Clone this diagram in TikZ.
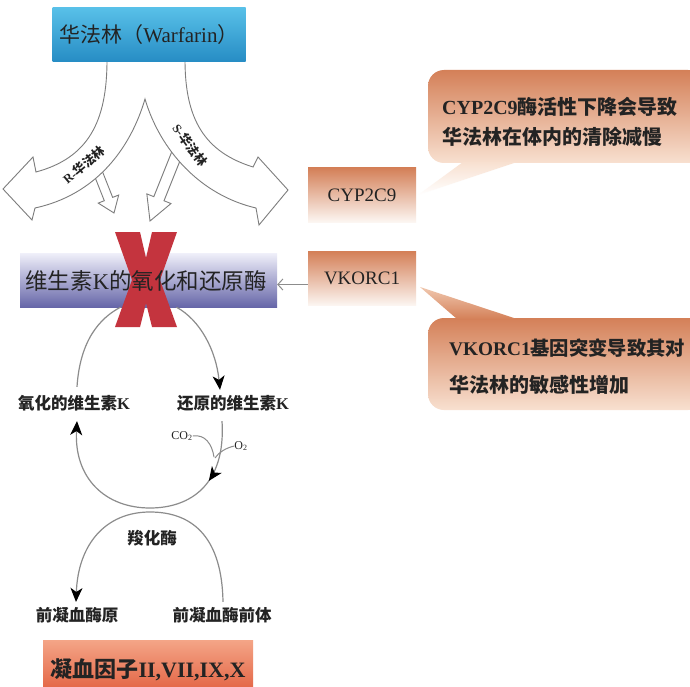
\documentclass[tikz,border=0pt]{standalone}
\usepackage{fontspec}
\setmainfont{Liberation Serif}
\newfontfamily\cjk{Noto Sans CJK SC}
\usetikzlibrary{arrows.meta,calc,decorations.markings}
\definecolor{warfTop}{RGB}{88,192,232}
\definecolor{warfBot}{RGB}{38,140,196}
\definecolor{purTop}{RGB}{240,240,250}
\definecolor{purBot}{RGB}{102,102,168}
\definecolor{orTop}{RGB}{212,128,88}
\definecolor{orLight}{RGB}{248,224,208}
\definecolor{orTip}{RGB}{240,200,175}
\definecolor{orBoxBot}{RGB}{252,246,242}
\definecolor{botTop}{RGB}{244,165,135}
\definecolor{botBot}{RGB}{224,88,56}
\definecolor{xred}{RGB}{196,52,62}
\definecolor{lgray}{RGB}{140,140,140}
\definecolor{agray}{RGB}{125,125,125}
\definecolor{txt}{RGB}{35,35,35}
% #1 start, #2 tip, #3 head length, #4 shaft half width, #5 head half width
\newcommand\blockarr[5]{%
  \coordinate (bah) at ($(#2)!#3pt!(#1)$);
  \path[bigarrow] ($(#1)!#4pt!90:(#2)$) -- ($(bah)!#4pt!-90:(#1)$) -- ($(bah)!#5pt!-90:(#1)$)
    -- (#2) -- ($(bah)!#5pt!90:(#1)$) -- ($(bah)!#4pt!90:(#1)$) -- ($(#1)!#4pt!-90:(#2)$) -- cycle;}
\begin{document}
\begin{tikzpicture}[x=1pt,y=-1pt,
  bigarrow/.style={draw=agray, line width=0.9pt, fill=white, line join=miter},
  cyc/.style={draw=lgray, line width=1.2pt},
  ktip/.style={-{Stealth[length=14pt,width=12pt,inset=4pt,color=black]}},
  lab/.style={font=\bfseries\fontsize{16.5}{19}\selectfont, text=txt, inner sep=1pt},
  obox/.style={minimum width=108pt, minimum height=54pt, inner sep=0pt, top color=orTop, bottom color=orBoxBot, text=txt, font=\fontsize{19}{22}\selectfont},
  small/.style={font=\fontsize{12}{14}\selectfont, text=txt, inner sep=0pt},
  armlab/.style={font=\bfseries\fontsize{12.5}{14}\selectfont, text=txt, inner sep=0pt},
  callt/.style={anchor=west, text=txt, font=\bfseries\fontsize{20}{23}\selectfont, inner sep=0pt}
]
\clip (0,0) rectangle (690,687);
\fill[white] (0,0) rectangle (690,687);

% small hollow arrows (under the big arrow)
\coordinate (rs) at (95,165);
\coordinate (rt) at (114,213);
\coordinate (ss) at (180,146);
\coordinate (st) at (150,221);
\blockarr{rs}{rt}{15}{4.5}{11}
\blockarr{ss}{st}{24}{5.5}{13}

% big split arrow
\path[bigarrow] (107,60) .. controls (107,122) and (88,158) .. (36,172) -- (33,157) -- (3,189) -- (32,220) -- (35,208)
  .. controls (95,195) and (130,150) .. (145,99)
  .. controls (160,150) and (200,195) .. (256,208) -- (259,225) -- (288,190) -- (258,157) -- (253,167)
  .. controls (205,152) and (185,120) .. (185,60) -- cycle;
\node[armlab, rotate=40] (rlab) at (84,165) {R-{\cjk 华法林}};
\node[armlab, rotate=-54] (slab) at (190,145) {S-{\cjk 华法林}};

% Warfarin box
\node[minimum width=193pt, minimum height=54pt, inner sep=0pt, top color=warfTop, bottom color=warfBot,
  text=txt, font=\fontsize{21}{25}\selectfont] (warf) at (149,35) {{\cjk 华法林（}Warfarin{\cjk ）}};

% enzyme box with red X
\node[minimum width=257pt, minimum height=54pt, inner sep=0pt, top color=purTop, bottom color=purBot] (enz) at (148.5,280) {};
\fill[xred] (115,232) -- (140,232) -- (146,258) -- (152,232) -- (177,232) -- (160,280) -- (177,327)
  -- (152,327) -- (146,303) -- (140,327) -- (115,327) -- (132,280) -- cycle;
\node[text=txt, font=\fontsize{22.5}{26}\selectfont, inner sep=0pt] (enzt) at (146,281) {{\cjk 维生素}K{\cjk 的氧化和还原酶}};

% gene boxes
\node[obox] (cyp) at (362,195) {CYP2C9};
\node[obox] (vk) at (362,278.5) {VKORC1};
\draw[lgray, line width=1pt, -{Straight Barb[length=5pt,width=11pt]}] ([yshift=-6pt]vk.west) -- ([yshift=-6pt]vk.west -| enz.east);

% callout 1
\begin{scope}
  \clip[rounded corners=16pt] (428,70) rectangle (704,163);
  \shade[top color=orTop, bottom color=orLight] (428,70) rectangle (704,163);
\end{scope}
\begin{scope}
  \clip (463,162) -- (418,195) -- (517,162) -- cycle;
  \shade[top color=orLight, bottom color=white] (418,162) rectangle (517,195);
\end{scope}
\node[callt] (c1a) at (442,107) {CYP2C9{\cjk 酶活性下降会导致}};
\node[callt] (c1b) at (442,137) {\cjk 华法林在体内的清除减慢};

% callout 2
\begin{scope}
  \clip[rounded corners=16pt] (428,318) rectangle (704,410);
  \shade[top color=orTop, bottom color=orLight] (428,318) rectangle (704,410);
\end{scope}
\begin{scope}
  \clip (420,287) -- (457,319) -- (517,319) -- cycle;
  \shade[top color=orTip, bottom color=orTop] (420,287) rectangle (517,319);
\end{scope}
\node[callt, font=\bfseries\fontsize{19.3}{23}\selectfont] (c2a) at (449,348) {VKORC1{\cjk 基因突变导致其对}};
\node[callt] (c2b) at (449,385) {\cjk 华法林的敏感性增加};

% vitamin K cycle
\node[lab] (oxK) at (74,403) {{\cjk 氧化的维生素}K};
\node[lab] (redK) at (233,403) {{\cjk 还原的维生素}K};
\node[lab] (carb) at (152,538) {\cjk 羧化酶};
\node[lab] (proT) at (77,615) {\cjk 前凝血酶原};
\node[lab] (preT) at (222,615) {\cjk 前凝血酶前体};
\node[small] (co2) at (182,436) {CO\textsubscript{2}};
\node[small] (o2) at (241,446) {O\textsubscript{2}};

\draw[cyc] ($(oxK.north)+(3,-7)$) .. controls (80,340) and (100,318) .. ($(enz.south)+(-28,0)$);
\draw[cyc, ktip] ($(enz.south)+(28,0)$) .. controls (200,320) and (216,350) .. ($(redK.north)+(-13,-4)$);
\draw[cyc, ktip, postaction={decorate}, decoration={markings, mark=at position 0.24 with {\arrow{Stealth[length=14pt,width=12pt,inset=4pt,color=black]}}}]
  ($(redK.south)+(-11,9)$) .. controls (226,485) and (190,508) .. (150,508)
  .. controls (105,508) and (74,478) .. ($(oxK.south)+(3,9)$);
\draw[lgray, line width=1pt] (co2.east) .. controls (205,434) and (212,444) .. (214,457);
\draw[lgray, line width=1pt] (o2.west) .. controls (226,448) and (219,452) .. (215,458);
\draw[cyc, ktip] ($(preT.north)+(1,-4)$) .. controls (222,540) and (195,512) .. (150,512)
  .. controls (105,512) and (78,545) .. ($(proT.north)+(-1,-4)$);

% coagulation factors
\node[minimum width=210pt, minimum height=60pt, inner sep=0pt, top color=botTop, bottom color=botBot, text=txt,
  font=\bfseries\fontsize{22}{26}\selectfont] (coag) at (148,670) {{\cjk 凝血因子}II,VII,IX,X};
\end{tikzpicture}
\end{document}
